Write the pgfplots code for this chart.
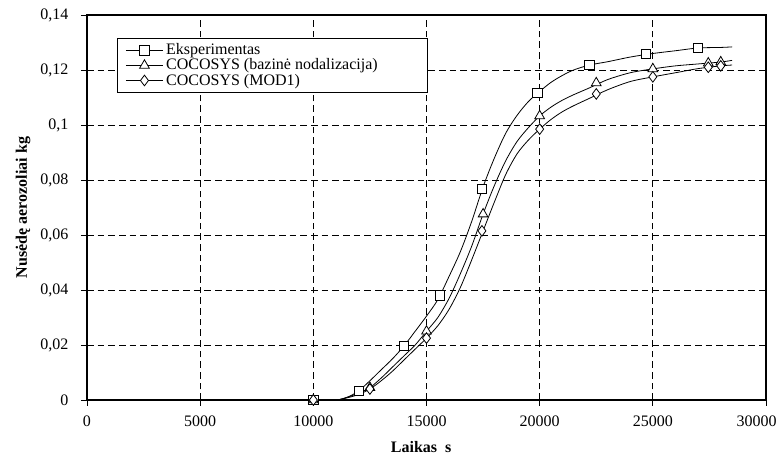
\documentclass[border=0pt]{standalone}
\usepackage{pgfplots}
\usepackage{pgfplotstable}
\pgfplotsset{compat=1.18}
\usepackage{fontspec}
\setmainfont{Liberation Serif}

\pgfplotstableread{
x exp tri dia
0 0 0 0
10000 0 0 0
11000 0 0 0
11500 0.001 0.001 0.0008
12000 0.0033 0.0025 0.002
12500 0.007 0.0045 0.004
13000 0.011 0.008 0.007
13500 0.015 0.012 0.0105
14000 0.0196 0.016 0.0145
14500 0.025 0.020 0.0185
15000 0.0305 0.025 0.0225
15500 0.0365 0.030 0.027
16000 0.045 0.037 0.033
16500 0.054 0.046 0.041
17000 0.065 0.056 0.051
17500 0.0775 0.0676 0.0615
18000 0.088 0.078 0.072
18500 0.097 0.087 0.082
19000 0.1035 0.094 0.0895
19500 0.1085 0.099 0.0945
20000 0.1122 0.1033 0.0985
20500 0.1155 0.1065 0.102
21000 0.118 0.109 0.1048
21500 0.120 0.111 0.107
22200 0.1218 0.1135 0.1097
23000 0.123 0.1165 0.1128
24000 0.1247 0.119 0.1158
25000 0.126 0.1204 0.1175
26000 0.127 0.1215 0.119
27000 0.128 0.1222 0.1205
28000 0.1282 0.1229 0.1215
28500 0.1284 0.1235 0.1218
}\data

\begin{document}
\begin{tikzpicture}
\useasboundingbox (0,0) rectangle (582.75pt,344.25pt);
\begin{axis}[
  at={(65.25pt,44.25pt)}, anchor=south west,
  scale only axis, width=509.25pt, height=288.75pt,
  xmin=0, xmax=30000, ymin=0, ymax=0.14,
  xtick={0,5000,10000,15000,20000,25000,30000},
  xticklabels={0,5000,10000,15000,20000,25000,\hspace*{-14pt}30000},
  ytick={0,0.02,0.04,0.06,0.08,0.1,0.12,0.14},
  scaled x ticks=false, scaled y ticks=false,
  xticklabel style={yshift=-4pt},
  yticklabel style={xshift=-6pt, /pgf/number format/fixed, /pgf/number format/precision=2, /pgf/number format/use comma},
  /pgf/number format/assume math mode=true,
  ticklabel style={font=\fontsize{12}{14}\selectfont},
  xtick pos=bottom, ytick pos=left,
  tick align=center, major tick length=9pt,
  tick style={black, line width=0.6pt},
  axis line style={black, line width=1pt},
  grid=major,
  grid style={black, line width=0.6pt, dash pattern=on 5pt off 3pt},
  xlabel={\textbf{Laikas\ \ s}},
  ylabel={\textbf{Nusėdę aerozoliai kg}},
  label style={font=\fontsize{12}{14}\selectfont},
  xlabel style={at={([xshift=-4pt,yshift=-35pt]axis description cs:0.5,0)}, anchor=center},
  ylabel style={at={([xshift=-48pt]axis description cs:0,0.5)}, anchor=center},
  legend style={at={(22.5pt,271.5pt)}, anchor=north west, draw=black, line width=0.6pt,
    fill=white, font=\fontsize{12}{14}\selectfont, row sep=-2.5pt, inner xsep=6pt, inner ysep=2pt},
  legend cell align=left,
  legend image code/.code={
    \draw[#1, mark repeat=2, mark phase=2] plot coordinates {(0pt,0pt) (14pt,0pt) (28pt,0pt)};
  },
  every axis plot/.append style={line width=0.6pt, black},
]
\addlegendimage{mark=square*, mark options={fill=white, solid}, mark size=3.5pt}
\addlegendentry{\makebox[188pt][l]{Eksperimentas}}
\addlegendimage{mark=triangle*, mark options={fill=white, solid}, mark size=4.2pt}
\addlegendentry{\makebox[188pt][l]{COCOSYS (bazinė nodalizacija)}}
\addlegendimage{mark=diamond*, mark options={fill=white, solid}, mark size=4pt}
\addlegendentry{\makebox[188pt][l]{COCOSYS (MOD1)}}

\addplot[smooth, no markers, forget plot] table[x=x, y=exp] {\data};
\addplot[smooth, no markers, forget plot] table[x=x, y=tri] {\data};
\addplot[smooth, no markers, forget plot] table[x=x, y=dia] {\data};

\addplot[only marks, mark=square*, mark options={fill=white}, mark size=3.5pt, forget plot] coordinates {
(10000,0) (12000,0.0033) (14000,0.0196) (15600,0.038) (17450,0.0767) (19900,0.1116) (22200,0.1218) (24700,0.1258) (27000,0.128)};
\addplot[only marks, mark=triangle*, mark options={fill=white}, mark size=4.2pt, forget plot] coordinates {
(10000,0) (12500,0.0045) (15000,0.025) (17500,0.0676) (20000,0.1033) (22500,0.1153) (25000,0.1204) (27450,0.1225) (28000,0.1229)};
\addplot[only marks, mark=diamond*, mark options={fill=white}, mark size=4pt, forget plot] coordinates {
(10000,0) (12500,0.004) (15000,0.0225) (17450,0.0615) (20000,0.0985) (22500,0.1113) (25000,0.1175) (27450,0.121) (28000,0.1215)};
\end{axis}
\end{tikzpicture}
\end{document}
